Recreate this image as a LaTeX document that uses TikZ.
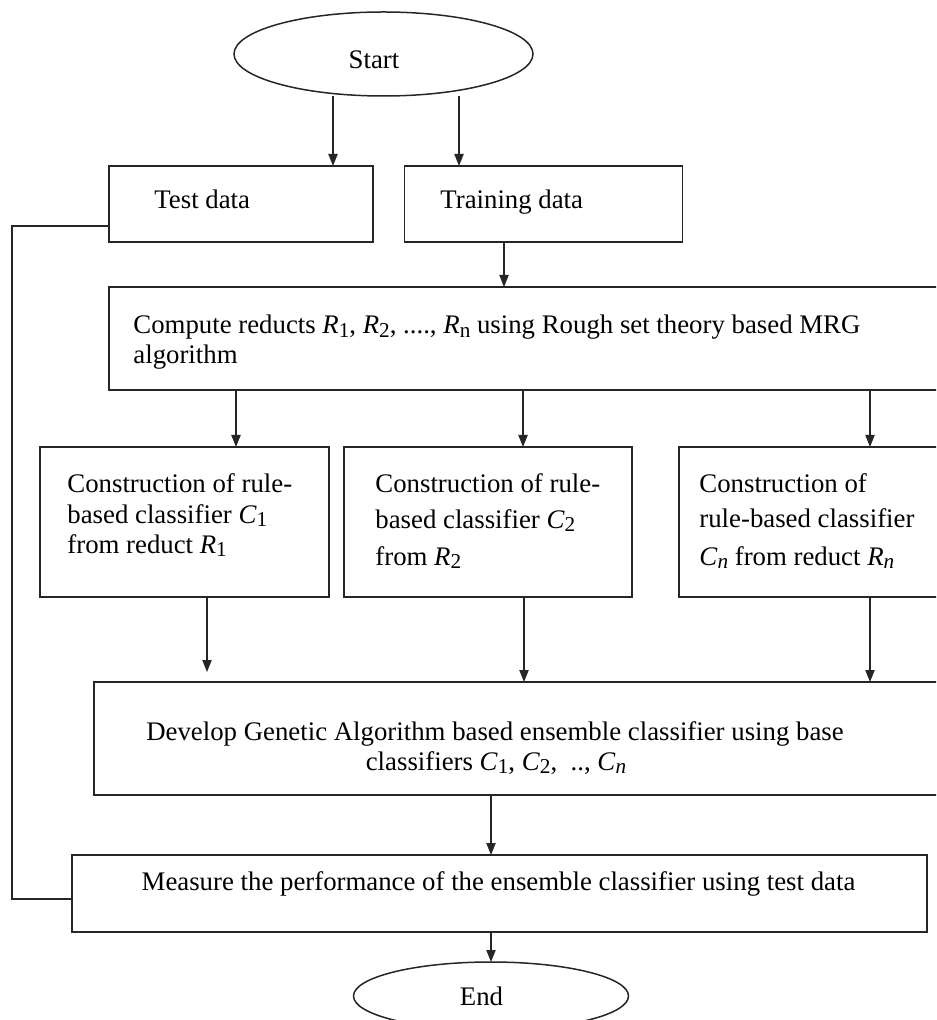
\documentclass[tikz,border=0pt]{standalone}
\usepackage{fontspec}
\setmainfont{Liberation Serif}
\usetikzlibrary{arrows.meta,shapes.geometric,calc}

% reduced index used after C and R
\newcommand\ix[1]{\raisebox{-0.25ex}{\fontsize{10.6}{10.6}\selectfont #1}}
\newcommand\tnr{\fontsize{13.4}{15}\selectfont}

\begin{document}
\begin{tikzpicture}[x=0.5pt,y=-0.5pt,
    line/.style={draw=black!85, line width=0.75pt},
    arr/.style={line, -{Triangle[length=6pt,width=4.6pt]}},
    box/.style={line, rectangle, inner sep=0pt, outer sep=0pt},
    oval/.style={line, ellipse, inner sep=0pt, outer sep=0pt},
    txt/.style={anchor=base west, inner sep=0pt, font=\tnr},
    ctxt/.style={anchor=base, inner sep=0pt, font=\tnr}]
  \path[use as bounding box] (0,0) rectangle (936,1020);
  \clip (0,0) rectangle (936,1020);

  % terminals
  \node[oval, minimum width=149.5pt, minimum height=42pt] (start) at (383.5,54) {};
  \node[oval, minimum width=137.5pt, minimum height=34pt] (endn) at (491,996) {};

  % process boxes
  \node[box, minimum width=132pt, minimum height=38pt] (test) at (241,204) {};
  \node[box, minimum width=139pt, minimum height=38pt] (train) at (543.5,204) {};
  \node[box, minimum width=425.5pt, minimum height=51.5pt] (compute) at (534.5,338.5) {};
  \node[box, minimum width=144.5pt, minimum height=75pt] (c1) at (184.5,522) {};
  \node[box, minimum width=144pt, minimum height=75pt] (c2) at (488,522) {};
  \node[box, minimum width=140.5pt, minimum height=75pt] (cn) at (819.5,522) {};
  \node[box, minimum width=433pt, minimum height=56.5pt] (dev) at (527,738.5) {};
  \node[box, minimum width=427.5pt, minimum height=38.5pt] (meas) at (499.5,893.5) {};

  % texts
  \node[ctxt] (startT) at (374,69) {Start};
  \node[ctxt] (endT) at (481.5,1005) {End};
  \node[txt] (testT) at (154,209) {Test data};
  \node[txt] (trainT) at (440,209) {Training data};
  \node[txt] (compT1) at (133,334) {Compute reducts \textit{R}\ix{1}, \textit{R}\ix{2}, ...., \textit{R}\ix{n} using Rough set theory based MRG};
  \node[txt] (compT2) at (133,364) {algorithm};
  \node[txt] (c1T1) at (67,492) {Construction of rule-};
  \node[txt] (c1T2) at (67,523) {based classifier \textit{C}\ix{1}};
  \node[txt] (c1T3) at (67,553) {from reduct \textit{R}\ix{1}};
  \node[txt] (c2T1) at (375,492) {Construction of rule-};
  \node[txt] (c2T2) at (375,528) {based classifier \textit{C}\ix{2}};
  \node[txt] (c2T3) at (375,565) {from \textit{R}\ix{2}};
  \node[txt] (cnT1) at (699,492) {Construction of};
  \node[txt] (cnT2) at (699,527) {rule-based classifier};
  \node[txt] (cnT3) at (699,565) {\textit{C}\ix{\textit{n}} from reduct \textit{R}\ix{\textit{n}}};
  \node[ctxt] (devT1) at (495,740) {Develop Genetic Algorithm based ensemble classifier using base};
  \node[ctxt] (devT2) at (496,770) {classifiers \textit{C}\ix{1}, \textit{C}\ix{2},\ \ .., \textit{C}\ix{\textit{n}}};
  \node[ctxt] (measT) at (498.5,890) {Measure the performance of the ensemble classifier using test data};

  % connectors
  \draw[arr] ([xshift=-25.25pt]start.south) -- ([xshift=-25.25pt]start.south |- test.north);
  \draw[arr] ([xshift=37.75pt]start.south) -- ([xshift=37.75pt]start.south |- train.north);
  \draw[arr] ([xshift=-19.75pt]train.south) -- ([xshift=-19.75pt]train.south |- compute.north);
  \draw[arr] ([xshift=25.75pt]c1.north |- compute.south) -- ([xshift=25.75pt]c1.north);
  \draw[arr] ([xshift=17.5pt]c2.north |- compute.south) -- ([xshift=17.5pt]c2.north);
  \draw[arr] ([xshift=25.25pt]cn.north |- compute.south) -- ([xshift=25.25pt]cn.north);
  \draw[arr] ([xshift=11.25pt]c1.south) -- ($([xshift=11.25pt]c1.south |- dev.north)+(0,-10)$);
  \draw[arr] ([xshift=18pt]c2.south) -- ([xshift=18pt]c2.south |- dev.north);
  \draw[arr] ([xshift=25.25pt]cn.south) -- ([xshift=25.25pt]cn.south |- dev.north);
  \draw[arr] (dev.south -| endn.north) -- (meas.north -| endn.north);
  \draw[arr] (meas.south -| endn.north) -- (endn.north);
  \draw[line] ([yshift=-11pt]test.west) -- ++(-48.5pt,0) |- ([yshift=-2.75pt]meas.west);
\end{tikzpicture}
\end{document}
